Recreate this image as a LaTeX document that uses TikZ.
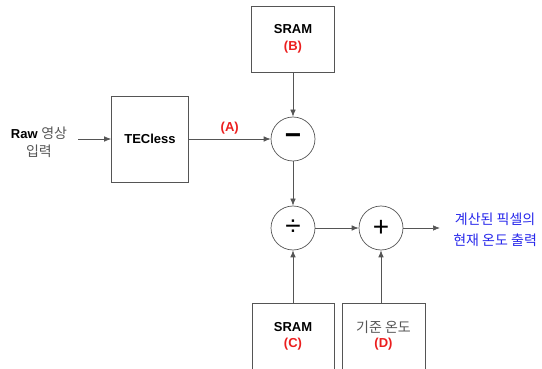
\documentclass[tikz,border=0pt]{standalone}
\usepackage{fontspec}
\setmainfont{Liberation Sans}
\newfontfamily\kofont{Noto Sans CJK KR}
\usetikzlibrary{arrows.meta}
\definecolor{linegray}{RGB}{85,85,85}
\definecolor{tagred}{RGB}{235,30,30}
\definecolor{outblue}{RGB}{40,40,235}
\newcommand\ko[1]{{\kofont\fontsize{14}{15}\selectfont #1}}

\begin{document}
\begin{tikzpicture}[x=1pt, y=-1pt, font=\fontsize{13}{15}\selectfont, line width=0.7pt,
    blk/.style={draw=linegray, minimum width=80pt, minimum height=66pt, align=center},
    opcirc/.style={draw=linegray, circle, minimum size=44pt, inner sep=0pt, font=\fontsize{28}{28}\selectfont},
    tag/.style={text=tagred, font=\fontsize{13}{15}\selectfont\bfseries},
    arr/.style={draw=linegray, -{Latex[length=7pt,width=5.5pt]}}]
    \useasboundingbox (0,0) rectangle (542,369);
    % blocks
    \node[blk, minimum width=77pt, minimum height=86pt] (tecless) at (150,139) {\bfseries TECless};
    \node[blk, minimum width=83pt] (sramB) at (293,39) {\bfseries SRAM\\[2pt]{\color{tagred}\bfseries (B)}};
    \node[blk, minimum width=82pt, minimum height=74pt, anchor=north] (sramC) at (293,303) {};
    \node[align=center] (sramCtxt) at (293,336) {\bfseries SRAM\\[1pt]{\color{tagred}\bfseries (C)}};
    \node[blk, minimum width=83pt, minimum height=74pt, anchor=north] (reftemp) at (383.5,303) {};
    \node[align=center] (reftempTxt) at (383.5,336) {\ko{\color{linegray}기준 온도}\\[0pt]{\color{tagred}\bfseries (D)}};
    % operators
    \node[opcirc] (sub) at (293,139) {\bfseries −};
    \node[opcirc] (divide) at (293,228) {÷};
    \node[opcirc] (plus) at (381,228) {+};
    % input and output text
    \node[align=center] (in) at (39,142)
        {{\bfseries Raw} \ko{\color{linegray}영상}\\[3pt]\ko{\color{linegray}입력}};
    \coordinate (inend) at (78,139);
    \node[align=center, anchor=west, inner xsep=13pt, text=outblue, font=\kofont\fontsize{14}{21}\selectfont] (out) at (440,230)
        {계산된 픽셀의\\현재 온도 출력};
    % connections
    \draw[arr] (inend) -- (tecless);
    \draw[arr] (tecless) -- node[tag, above=1pt] {(A)} (sub);
    \draw[arr] (sramB) -- (sub);
    \draw[arr] (sub) -- (divide);
    \draw[arr] (divide) -- (plus);
    \draw[arr] (plus) -- (plus -| out.west);
    \draw[arr] (sramC) -- (divide);
    \draw[arr] (reftemp.north -| plus) -- (plus);
\end{tikzpicture}
\end{document}
